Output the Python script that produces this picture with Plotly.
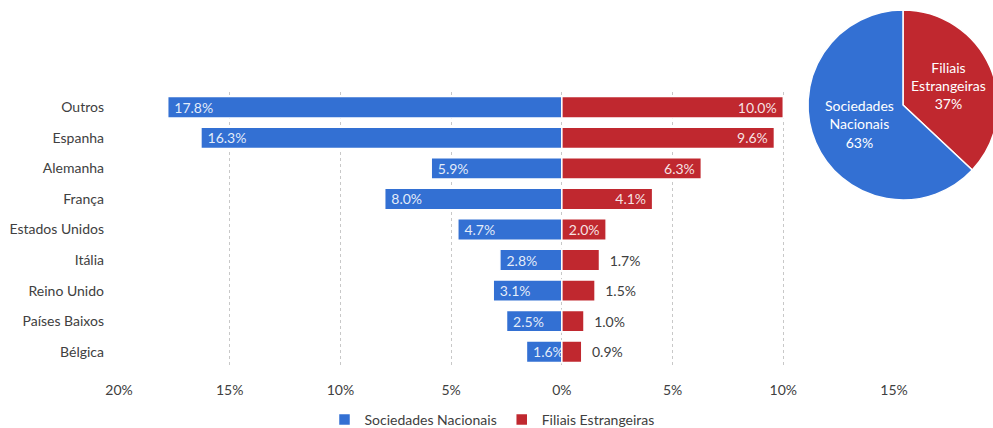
import plotly.graph_objects as go

# Countries, top to bottom
countries = ["Outros", "Espanha", "Alemanha", "França", "Estados Unidos",
             "Itália", "Reino Unido", "Países Baixos", "Bélgica"]
# Share of each group (%)
nacionais = [17.8, 16.3, 5.9, 8.0, 4.7, 2.8, 3.1, 2.5, 1.6]
estrangeiras = [10.0, 9.6, 6.3, 4.1, 2.0, 1.7, 1.5, 1.0, 0.9]

# Overall split between the two groups (%)
pie_labels = ["Filiais Estrangeiras", "Sociedades Nacionais"]
pie_values = [37, 63]

tick_vals = [-20, -15, -10, -5, 0, 5, 10, 15]
tick_text = ["20%", "15%", "10%", "5%", "0%", "5%", "10%", "15%"]

BLUE = "#3370D3"
RED = "#C0282F"
GREY = "#404040"
FONT = "Lato"
SIZE = 14
W, H = 1010, 428      # canvas runs past the page edge so the pie is cut off on the right
VISIBLE_W = 993
NB = "\u00a0"

fig = go.Figure()

fig.add_trace(go.Bar(
    name="Sociedades Nacionais",
    y=countries,
    x=[-v for v in nacionais],
    orientation="h",
    marker=dict(color=BLUE, line=dict(color="white", width=1.5)),
    text=[NB + f"{v:.1f}%" for v in nacionais],
    textposition="inside",
    insidetextanchor="end",
    textangle=0,
    insidetextfont=dict(color="rgba(255,255,255,0.88)", size=SIZE, family=FONT),
))

red_pos = ["inside" if v >= 2.0 else "outside" for v in estrangeiras]
red_text = [f"{v:.1f}%" + NB if v >= 2.0 else NB * 2 + f"{v:.1f}%" for v in estrangeiras]
fig.add_trace(go.Bar(
    name="Filiais Estrangeiras",
    y=countries,
    x=estrangeiras,
    orientation="h",
    marker=dict(color=RED, line=dict(color="white", width=1.5)),
    text=red_text,
    textposition=red_pos,
    insidetextanchor="end",
    textangle=0,
    insidetextfont=dict(color="rgba(255,255,255,0.88)", size=SIZE, family=FONT),
    outsidetextfont=dict(color=GREY, size=SIZE, family=FONT),
    cliponaxis=False,
))

fig.add_trace(go.Pie(
    labels=pie_labels,
    values=pie_values,
    text=[l.replace(" ", "<br>") for l in pie_labels],
    texttemplate="%{text}<br>%{percent:.0%}",
    textposition="inside",
    insidetextorientation="horizontal",
    textfont=dict(color="white", size=[12.5, 13], family=FONT),
    marker=dict(colors=[RED, BLUE], line=dict(color="white", width=1.5)),
    sort=False,
    direction="clockwise",
    rotation=0,
    showlegend=False,
    hoverinfo="skip",
    domain=dict(x=[808 / W, 998 / W], y=[1 - 200 / H, 1 - 10 / H]),
))

fig.update_layout(
    width=W, height=H, autosize=False,
    margin=dict(l=0, r=0, t=0, b=0, autoexpand=False),
    paper_bgcolor="white", plot_bgcolor="white",
    barmode="relative", bargap=0.3,
    uniformtext=dict(minsize=SIZE, mode="show"),
    font=dict(family=FONT, size=SIZE, color=GREY),
    xaxis=dict(
        domain=[119 / W, 894 / W],
        range=[-20, 15],
        tickvals=tick_vals, ticktext=tick_text,
        showgrid=True, gridcolor="#C8C8C8", griddash="3px,3px", gridwidth=1,
        zeroline=False, showline=False, ticks="",
        ticklabelstandoff=13,
        tickfont=dict(size=SIZE, color=GREY),
        automargin=False,
    ),
    yaxis=dict(
        domain=[1 - 367 / H, 1 - 92 / H],
        autorange="reversed",
        showgrid=False, zeroline=False, showline=False, ticks="",
        ticklabelstandoff=14,
        tickfont=dict(size=SIZE, color=GREY),
        automargin=False,
    ),
    legend=dict(
        orientation="h", x=492 / W, xanchor="center",
        y=1 - 420 / H, yanchor="middle",
        font=dict(size=SIZE, color=GREY),
        itemwidth=30,
    ),
)

# Clip the wrapper to the page width so the overflowing part of the pie is hidden
clip_js = (
    "var gd=document.getElementById('{plot_id}');"
    "var p=gd.parentElement;"
    "p.style.width='" + str(VISIBLE_W) + "px';p.style.overflow='hidden';"
    "document.documentElement.style.overflow='hidden';"
    "document.body.style.overflow='hidden';"
)
fig.write_html("out.html", post_script=clip_js)
